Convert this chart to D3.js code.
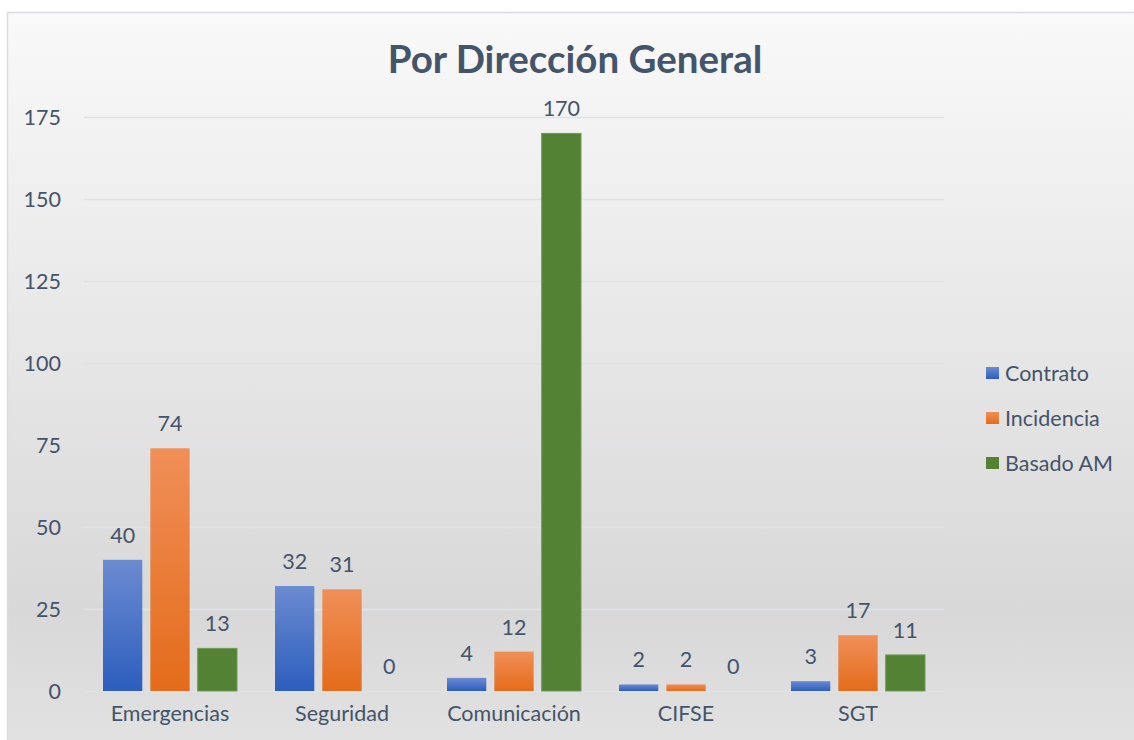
<!DOCTYPE html>
<html>
<head>
<meta charset="utf-8">
<script src="https://cdn.jsdelivr.net/npm/d3@7"></script>
<style>
  body { margin: 0; background: #fff; }
  text { font-family: Lato, "Open Sans", sans-serif; fill: #44546a; }
</style>
</head>
<body>
<div id="vis"></div>
<script>
    var categories = ['Emergencias', 'Seguridad', 'Comunicación', 'CIFSE', 'SGT'];
    var seriesNames = ['Contrato', 'Incidencia', 'Basado AM'];
    var contrato = [40, 32, 4, 2, 3];
    var incidencia = [74, 31, 12, 2, 17];
    var basadoAM = [13, 0, 170, 0, 11];
    var yTicks = [0, 25, 50, 75, 100, 125, 150, 175];

    var seriesValues = [contrato, incidencia, basadoAM];

    var width = 1134;
    var height = 740;

    var margin = {
        left: 84,
        right: 190,
        top: 117,
        bottom: 49
    };

    var drawWidth = width - margin.left - margin.right;
    var drawHeight = height - margin.top - margin.bottom;
    var fontSize = '21.5px';

    var svg = d3.select('#vis')
        .append('svg')
        .attr('width', width)
        .attr('height', height);

    var defs = svg.append('defs');

    // chart background
    var bg = defs.append('linearGradient')
        .attr('id', 'bg')
        .attr('x1', 0).attr('y1', 0).attr('x2', 0).attr('y2', 1);
    bg.append('stop').attr('offset', '0%').attr('stop-color', '#f9f9f9');
    bg.append('stop').attr('offset', '80%').attr('stop-color', '#d8d8d8');
    bg.append('stop').attr('offset', '100%').attr('stop-color', '#e3e3e3');

    var fills = [
        ['#6c8bd1', '#2c5ebd'],
        ['#f08f58', '#e46b1a'],
        ['#548235', '#548235']
    ];
    fills.forEach(function(f, i) {
        var lg = defs.append('linearGradient')
            .attr('id', 'bar' + i)
            .attr('x1', 0).attr('y1', 0).attr('x2', 0).attr('y2', 1);
        lg.append('stop').attr('offset', '0%').attr('stop-color', f[0]);
        lg.append('stop').attr('offset', '100%').attr('stop-color', f[1]);
    });

    svg.append('rect')
        .attr('x', 7.5)
        .attr('y', 12.5)
        .attr('width', width + 10)
        .attr('height', height + 10)
        .attr('fill', 'url(#bg)')
        .attr('stroke', '#d9dde3')
        .attr('stroke-width', 1.5);

    var g = svg.append('g')
        .attr('transform', 'translate(' + margin.left + ',' + margin.top + ')');

    var xScale = d3.scaleBand()
        .domain(categories)
        .range([0, drawWidth]);

    var inner = d3.scaleBand()
        .domain(seriesNames)
        .range([19, xScale.bandwidth() - 19])
        .paddingInner(0.17);

    var yScale = d3.scaleLinear()
        .domain([0, 175])
        .range([drawHeight, 0]);

    // gridlines + y labels
    var yAxis = d3.axisLeft(yScale)
        .tickValues(yTicks)
        .tickSize(-drawWidth)
        .tickPadding(23);

    var yAxisG = g.append('g').call(yAxis);
    yAxisG.select('.domain').remove();
    yAxisG.selectAll('line')
        .attr('stroke', '#dfe3e8')
        .attr('stroke-width', 1.5);
    yAxisG.selectAll('text')
        .style('font-size', fontSize)
        .attr('fill', '#44546a')
        .attr('dy', '0.35em');

    var xAxis = d3.axisBottom(xScale)
        .tickSize(0)
        .tickPadding(15);

    var xAxisG = g.append('g')
        .attr('transform', 'translate(0,' + drawHeight + ')')
        .call(xAxis);
    xAxisG.select('.domain').remove();
    xAxisG.selectAll('text')
        .style('font-size', fontSize)
        .attr('fill', '#44546a')
        .attr('dy', '0.71em');

    var data = [];
    categories.forEach(function(c, ci) {
        seriesNames.forEach(function(s, si) {
            data.push({cat: c, series: s, si: si, value: seriesValues[si][ci]});
        });
    });

    g.selectAll('rect.bar')
        .data(data)
        .enter().append('rect')
        .attr('class', 'bar')
        .attr('x', function(d) { return xScale(d.cat) + inner(d.series); })
        .attr('y', function(d) { return yScale(d.value); })
        .attr('width', inner.bandwidth())
        .attr('height', function(d) { return drawHeight - yScale(d.value); })
        .attr('fill', function(d) { return 'url(#bar' + d.si + ')'; })
        .attr('stroke', function(d) { return d.si == 2 ? '#6f9a52' : 'none'; })
        .attr('stroke-width', 1);

    g.selectAll('text.val')
        .data(data)
        .enter().append('text')
        .attr('class', 'val')
        .attr('x', function(d) { return xScale(d.cat) + inner(d.series) + inner.bandwidth() / 2; })
        .attr('y', function(d) { return yScale(d.value) - 17; })
        .attr('text-anchor', 'middle')
        .style('font-size', fontSize)
        .text(function(d) { return d.value; });

    // title
    svg.append('text')
        .attr('x', 575)
        .attr('y', 73)
        .attr('text-anchor', 'middle')
        .style('font-size', '38.5px')
        .style('font-weight', 'bold')
        .text('Por Dirección General');

    // legend
    var legend = svg.append('g')
        .attr('transform', 'translate(986,373)');
    var items = legend.selectAll('g')
        .data(seriesNames)
        .enter().append('g')
        .attr('transform', function(d, i) { return 'translate(0,' + (i * 45) + ')'; });
    items.append('rect')
        .attr('x', 0)
        .attr('y', -6)
        .attr('width', 13)
        .attr('height', 12)
        .attr('fill', function(d, i) { return 'url(#bar' + i + ')'; });
    items.append('text')
        .attr('x', 19)
        .attr('y', 0)
        .attr('dy', '0.35em')
        .style('font-size', fontSize)
        .text(function(d) { return d; });
</script>
</body>
</html>
